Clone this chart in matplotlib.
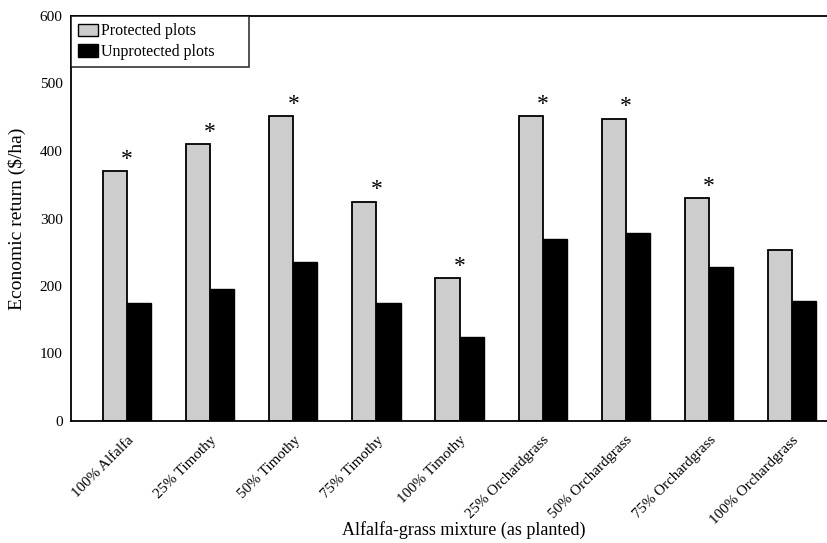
import matplotlib
matplotlib.use("Agg")
import matplotlib.pyplot as plt
import numpy as np
from matplotlib.patches import Patch

categories = ["100% Alfalfa", "25% Timothy", "50% Timothy", "75% Timothy",
              "100% Timothy", "25% Orchardgrass", "50% Orchardgrass",
              "75% Orchardgrass", "100% Orchardgrass"]
protected = [370, 410, 452, 325, 212, 452, 448, 330, 254]
unprotected = [175, 195, 235, 175, 125, 269, 279, 228, 178]
significant = [True, True, True, True, True, True, True, True, False]
yticks = [0, 100, 200, 300, 400, 500, 600]

plt.rcParams['font.family'] = ['Liberation Serif', 'DejaVu Serif']

fig = plt.figure(figsize=(8.27, 5.43), dpi=100)
ax = fig.add_axes([71/827, 1 - 421/543, (827 - 71)/827, (421 - 16)/543])

x = np.arange(len(categories))
w = 0.29
ax.bar(x - w/2, protected, width=w, color='#cdcdcd', edgecolor='black',
       linewidth=1.3, zorder=2)
ax.bar(x + w/2, unprotected, width=w, color='black', edgecolor='black',
       linewidth=1.0, zorder=2)

for xi, p, s in zip(x, protected, significant):
    if s:
        ax.annotate('*', xy=(xi, p), xytext=(0, 1), textcoords='offset points',
                    ha='center', va='bottom', fontsize=17)

ax.set_xlim(-0.674, 8.42)
ax.set_ylim(0, 600)
ax.set_yticks(yticks)
ax.set_yticklabels([str(v) for v in yticks], fontsize=11)
ax.set_xticks(x)
ax.set_xticklabels(categories, rotation=45, ha='right', rotation_mode='anchor',
                   fontsize=10.8)
ax.tick_params(axis='both', length=0, pad=6)
ax.tick_params(axis='x', pad=9)

for side in ['left', 'bottom', 'top']:
    ax.spines[side].set_linewidth(1.3)
ax.spines['right'].set_visible(False)

ax.set_ylabel('Economic return ($/ha)', fontsize=14, labelpad=10)
fig.text(464/827, 1 - 530/543, 'Alfalfa-grass mixture (as planted)',
         ha='center', va='center', fontsize=13)

handles = [Patch(facecolor='#cdcdcd', edgecolor='black', linewidth=1.0),
           Patch(facecolor='black', edgecolor='black')]
leg = ax.legend(handles, ['Protected plots', 'Unprotected plots'],
                loc='upper left', bbox_to_anchor=(0, 1 - 51/405, 178/756, 51/405),
                mode='expand', fontsize=11.5,
                frameon=True, fancybox=False, edgecolor='black',
                handlelength=1.25, handleheight=0.8, handletextpad=0.2,
                borderpad=0.45, labelspacing=0.3, borderaxespad=0)
leg.get_frame().set_linewidth(1.2)

fig.savefig('out.png', dpi=100)
